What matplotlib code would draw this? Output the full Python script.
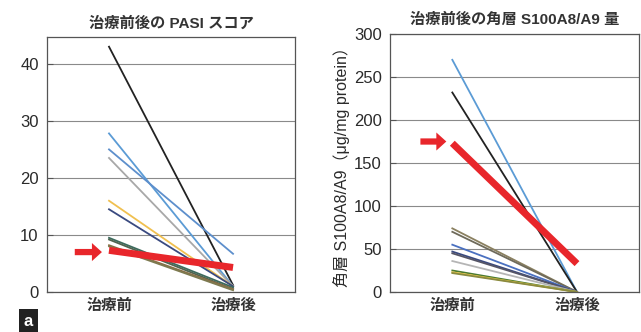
import matplotlib.pyplot as plt

plt.rcParams['font.family'] = ['Liberation Sans', 'Noto Sans CJK JP', 'DejaVu Sans']

# categories on the x axis
groups = ["治療前", "治療後"]

# PASI score per patient: before, after
pasi_before = [43.0, 27.8, 25.0, 23.5, 16.0, 14.5, 9.5, 9.2, 8.2, 8.0]
pasi_after = [1.2, 1.0, 6.7, 1.0, 1.0, 1.0, 0.8, 0.5, 0.5, 0.3]
pasi_colors = ["#222222", "#5b9bd5", "#5d8fcc", "#a8a8a8", "#f0c050",
               "#3a4a80", "#3d6b5e", "#4f6450", "#8b6e45", "#7d7a50"]
pasi_mean = [7.3, 4.3]

# stratum corneum S100A8/A9 per patient: before, after
s100_before = [270, 232, 74, 70, 55, 47, 45, 36, 25, 23, 22]
s100_after = [0, 0, 0, 0, 0, 0, 0, 0, 0, 0, 0]
s100_colors = ["#5b9bd5", "#222222", "#8a8060", "#6e6a5a", "#4a70c0",
               "#3a4a80", "#555566", "#b5b5b5", "#4a7a30", "#e0c040", "#8a8a40"]
s100_mean = [173, 33]

pasi_ticks = [0, 10, 20, 30, 40]
s100_ticks = [0, 50, 100, 150, 200, 250, 300]

RED = "#e8262b"


def style_axes(ax, ticks, ymax):
    ax.set_xlim(-0.5, 1.5)
    ax.set_ylim(0, ymax)
    ax.set_yticks(ticks)
    ax.set_xticks([0, 1])
    ax.set_xticklabels(groups, fontsize=11, fontweight="bold", color="#333333")
    ax.tick_params(axis="y", direction="in", length=4, width=0.8, color="#555555",
                   labelsize=12, labelcolor="#2a2a2a", pad=6)
    ax.tick_params(axis="x", length=0, pad=5)
    ax.grid(axis="y", color="#8a8a8a", linewidth=0.8)
    ax.set_axisbelow(True)
    for s in ax.spines.values():
        s.set_color("#555555")
        s.set_linewidth(0.9)


def draw_pairs(ax, before, after, colors, mean, arrow_y, arrow_x):
    for b, a, c in zip(before, after, colors):
        ax.plot([0, 1], [b, a], color=c, linewidth=1.3)
    ax.plot([0, 1], mean, color=RED, linewidth=5, solid_capstyle="butt")
    # block arrow pointing at the mean line
    ax.annotate("", xy=(arrow_x[1], arrow_y), xytext=(arrow_x[0], arrow_y),
                arrowprops=dict(arrowstyle="simple,head_length=0.72,head_width=1.3,tail_width=0.45",
                                color=RED, lw=0, mutation_scale=10,
                                shrinkA=0, shrinkB=0))


fig = plt.figure(figsize=(6.41, 3.32), dpi=100)

ax1 = fig.add_axes([0.0733, 0.1205, 0.387, 0.768])
draw_pairs(ax1, pasi_before, pasi_after, pasi_colors, pasi_mean, 7.0, (-0.276, -0.057))
style_axes(ax1, pasi_ticks, 44.7)
ax1.set_title("治療前後の PASI スコア", fontsize=11, fontweight="bold", color="#333333", pad=7)

ax2 = fig.add_axes([0.6084, 0.1205, 0.389, 0.777])
draw_pairs(ax2, s100_before, s100_after, s100_colors, s100_mean, 175, (-0.256, -0.048))
style_axes(ax2, s100_ticks, 300)
ax2.set_title("治療前後の角層 S100A8/A9 量", fontsize=11, fontweight="bold", color="#333333", pad=7)
ax2.set_ylabel("角層 S100A8/A9（μg/mg protein）", fontsize=11.5, color="#2a2a2a", labelpad=3)

fig.text(0.044, 0.033, "a", fontsize=12, fontweight="bold", color="white",
         ha="center", va="center",
         bbox=dict(boxstyle="square,pad=0.3", facecolor="#222222", edgecolor="none"))

fig.savefig("out.png", dpi=100)
